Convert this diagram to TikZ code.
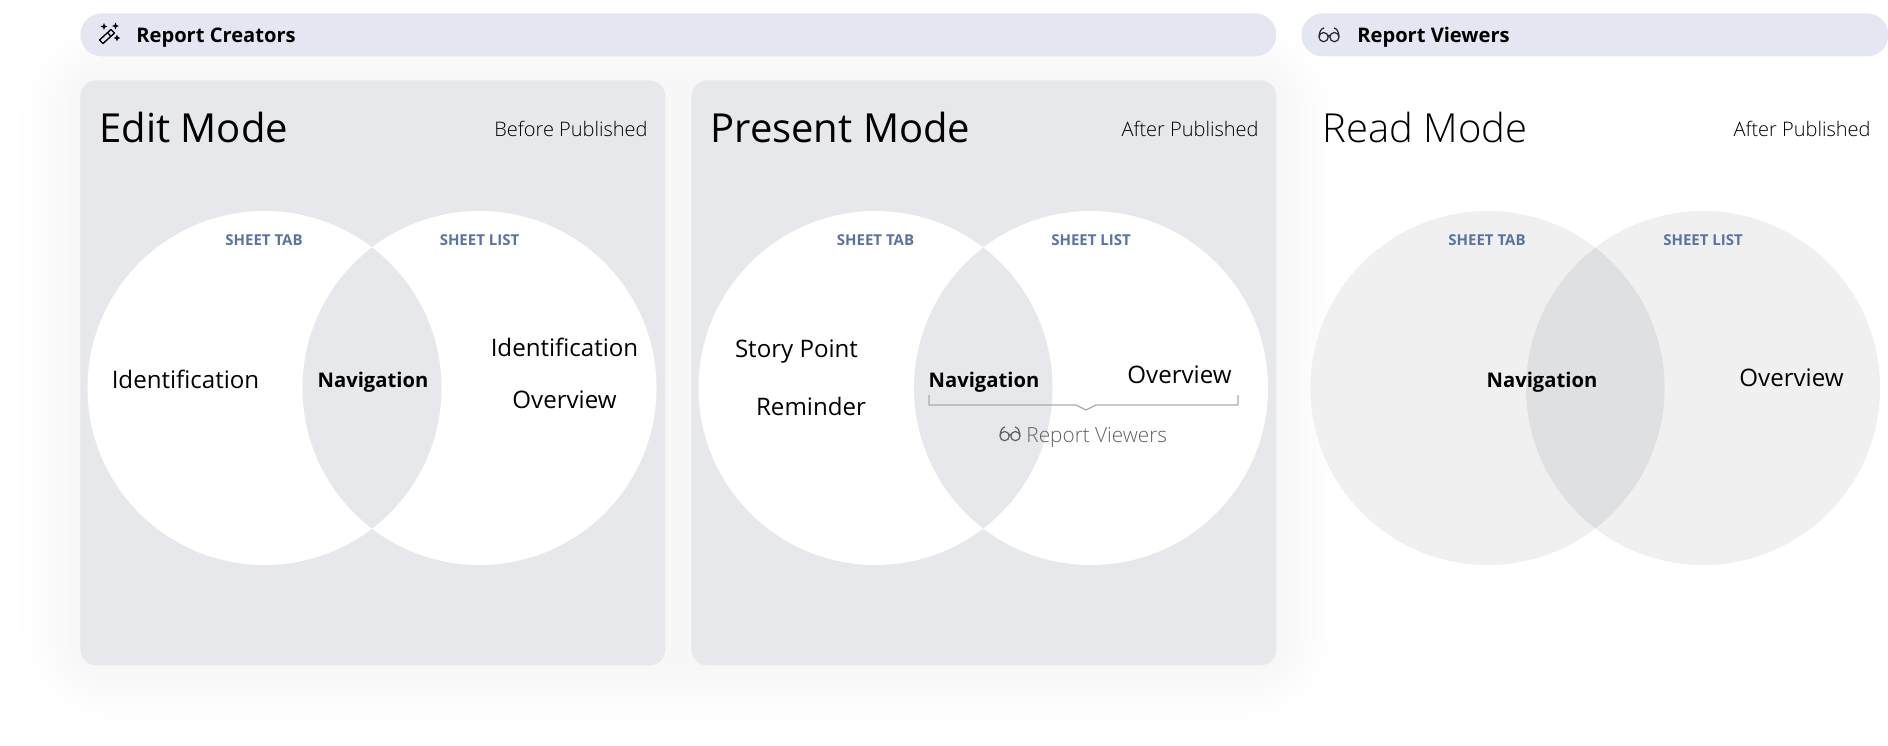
\documentclass[tikz,border=0pt]{standalone}
\usepackage{fontspec}
\setmainfont{Open Sans}
\newfontfamily\oslight{Open Sans Light}
\usetikzlibrary{calc}
\definecolor{panelc}{HTML}{E7E8EC}
\definecolor{barc}{HTML}{E4E6F2}
\definecolor{tabc}{HTML}{5A739F}
\definecolor{bracec}{HTML}{ABABAB}
\definecolor{subc}{HTML}{606060}
\definecolor{readc}{HTML}{F0F0F0}
\definecolor{lensc}{HTML}{DFE0E2}
\newcommand{\fs}[1]{\fontsize{#1}{#1}\selectfont}
\tikzset{
  x=0.5pt,y=-0.5pt,
  panel/.style={fill=panelc,draw=none,rounded corners=8pt,minimum width=292.5pt,minimum height=292.5pt,inner sep=0pt,anchor=north west},
  bar/.style={fill=barc,draw=none,rounded corners=10.7pt,minimum height=21.5pt,inner sep=0pt,anchor=north west},
  bartext/.style={font=\bfseries\fs{10.05},anchor=base west,inner sep=0pt,text=black},
  disc/.style={circle,minimum size=177pt,inner sep=0pt,draw=none},
  title/.style={font=\fs{20},anchor=base west,inner sep=0pt,text=black},
  subtitle/.style={font=\oslight\fs{10},anchor=east,inner sep=0pt,text=black},
  tab/.style={font=\bfseries\fs{7.5},text=tabc,inner sep=0pt},
  item/.style={font=\fs{12.05},inner sep=0pt,text=black},
  nav/.style={font=\bfseries\fs{10.1},inner sep=0pt,text=black},
  icon/.style={draw=black,line width=0.7pt,fill=none},
}
\newcommand{\glasses}[3]{% x, y (centre), colour
  \begin{scope}[shift={(#1,#2)}]
    \draw[line width=0.6pt,draw=#3] (-5.4,2.6) circle[radius=4.6] (5.4,2.6) circle[radius=4.6];
    \draw[line width=0.6pt,draw=#3] (-1.2,1.6) .. controls (-0.4,0.4) and (0.4,0.4) .. (1.2,1.6);
    \draw[line width=0.6pt,draw=#3] (-10,2) .. controls (-9.6,-3) and (-7.8,-6) .. (-5,-6.5);
    \draw[line width=0.6pt,draw=#3] (10,2) .. controls (9.6,-3) and (7.8,-6) .. (5,-6.5);
  \end{scope}
}
\newcommand{\sparkle}[3]{% x,y,size
  \fill (#1,#2-#3) -- (#1+0.3*#3,#2-0.3*#3) -- (#1+#3,#2) -- (#1+0.3*#3,#2+0.3*#3) -- (#1,#2+#3) -- (#1-0.3*#3,#2+0.3*#3) -- (#1-#3,#2) -- (#1-0.3*#3,#2-0.3*#3) -- cycle;
}
\begin{document}
\begin{tikzpicture}
\useasboundingbox (0,0) rectangle (1888,745);
% soft shadow behind the two panels
\foreach \g in {6,12,18,24,32,40,48,60}{
  \fill[black,opacity=0.004,rounded corners=\g*0.7pt+8pt] (80-\g,80-\g) rectangle (1276+\g,665+\g);
}
% header bars
\node[bar,minimum width=598pt] (barA) at (80,13) {};
\node[bar,minimum width=293.5pt] (barB) at (1301,13) {};
\node[bartext] (barAt) at (136,42) {Report Creators};
\node[bartext] (barBt) at (1357,42) {Report Viewers};
% wand icon
\begin{scope}
  \draw[icon,line join=round] (99.5,40) -- (111,29.5) -- (114.5,33) -- (103,43.5) -- cycle;
  \draw[icon] (107.5,32.7) -- (111,36.3);
  \sparkle{104}{26.5}{3.4}
  \sparkle{115.5}{26}{3.4}
  \sparkle{117}{38}{3.4}
\end{scope}
\glasses{1329}{34.5}{black!85}
% panels
\node[panel] (pE) at (80,80) {};
\node[panel] (pP) at (691,80) {};
% Edit venn
\node[disc,fill=white] (eL) at (264.5,388) {};
\node[disc,fill=white] (eR) at (479.5,388) {};
\begin{scope}
  \clip (264.5,388) circle[radius=177];
  \fill[panelc] (479.5,388) circle[radius=177];
\end{scope}
% Present venn
\node[disc,fill=white] (pL) at (875.5,388) {};
\node[disc,fill=white] (pR) at (1091,388) {};
\begin{scope}
  \clip (875.5,388) circle[radius=177];
  \fill[panelc] (1091,388) circle[radius=177];
\end{scope}
% Read venn
\node[disc,fill=readc] (rL) at (1487.5,388) {};
\node[disc,fill=readc] (rR) at (1703,388) {};
\begin{scope}
  \clip (1487.5,388) circle[radius=177];
  \fill[lensc] (1703,388) circle[radius=177];
\end{scope}
% titles
\node[title] (tE) at (99,142) {Edit Mode};
\node[title] (tP) at (710,142) {Present Mode};
\node[title,font=\oslight\fs{20}] (tR) at (1322,142) {Read Mode};
\node[subtitle] (sE) at (648,129) {Before Published};
\node[subtitle] (sP) at (1259,129) {After Published};
\node[subtitle] (sR) at (1871,129) {After Published};
% set labels
\foreach \n/\xa/\xb in {e/264/479.5,p/875.5/1091,r/1487/1703}{
  \node[tab] (\n tab) at (\xa,240.5) {SHEET TAB};
  \node[tab] (\n list) at (\xb,240.5) {SHEET LIST};
}
% items
\node[item] (i1) at (185.5,379) {Identification};
\node[nav] (n1) at (373,382.5) {Navigation};
\node[item] (i2) at (564.5,347.5) {Identification};
\node[item] (i3) at (564.5,399.5) {Overview};
\node[item] (i4) at (796.5,351.5) {Story Point};
\node[item] (i5) at (811,406) {Reminder};
\node[nav] (n2) at (984,382.5) {Navigation};
\node[item] (i6) at (1179.5,374.5) {Overview};
\node[nav] (n3) at (1542,382.5) {Navigation};
\node[item] (i7) at (1791.5,378) {Overview};
% bracket
\coordinate (bl) at (929,395);
\coordinate (br) at (1238,395);
\coordinate (bt) at (1086,410);
\draw[bracec,line width=0.6pt,line join=round] (bl) |- ($(bt)+(-10,-5)$) -- (bt) -- ($(bt)+(10,-5)$) -| (br);
\glasses{1010}{433.5}{subc}
\node[font=\oslight\fs{10.4},text=subc,anchor=base west,inner sep=0pt] (rv) at (1026,442) {Report Viewers};
\end{tikzpicture}
\end{document}
